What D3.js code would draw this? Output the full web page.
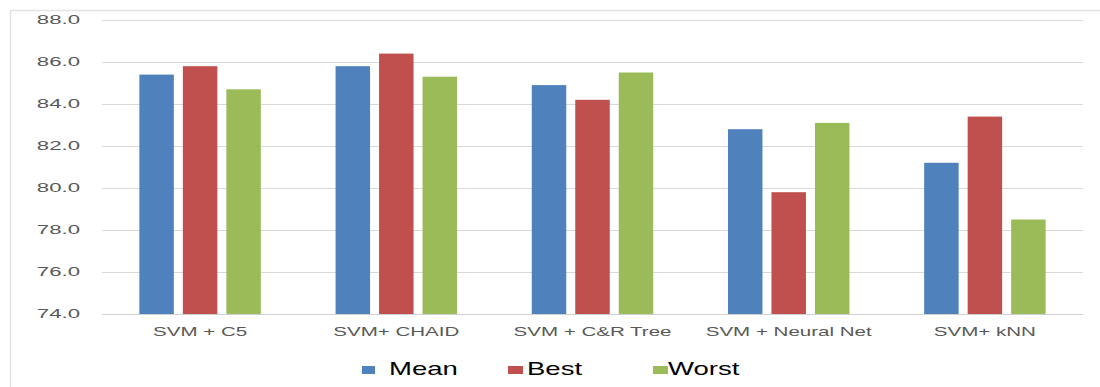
<!DOCTYPE html>
<html>
<head>
<meta charset="utf-8">
<script src="https://cdn.jsdelivr.net/npm/d3@7"></script>
<style>
  html, body { margin: 0; padding: 0; background: #fff; }
  svg { display: block; }
</style>
</head>
<body>
<svg id="chart" width="1100" height="387"></svg>
<script>
// ---- data ----
const categories = ["SVM + C5", "SVM+ CHAID", "SVM + C&R Tree", "SVM + Neural Net", "SVM+ kNN"];
const seriesNames = ["Mean", "Best", "Worst"];
const meanValues  = [85.4, 85.8, 84.9, 82.8, 81.2];
const bestValues  = [85.8, 86.4, 84.2, 79.8, 83.4];
const worstValues = [84.7, 85.3, 85.5, 83.1, 78.5];
const yTicks = [74, 76, 78, 80, 82, 84, 86, 88];

// ---- layout ----
const colors = { Mean: "#4F81BD", Best: "#C0504D", Worst: "#9BBB59" };
const seriesValues = { Mean: meanValues, Best: bestValues, Worst: worstValues };
const plotLeft = 102, plotRight = 1083, plotTop = 20, plotBottom = 314;

const svg = d3.select("#chart");

// outer frame
svg.append("path")
  .attr("d", "M10.5,387 L10.5,10.5 L1100,10.5")
  .attr("fill", "none")
  .attr("stroke", "#e3e3e3")
  .attr("stroke-width", 1.5);

const x0 = d3.scaleBand().domain(categories).range([plotLeft, plotRight]).paddingInner(0).paddingOuter(0);
const x1 = d3.scaleBand().domain(seriesNames).range([0, x0.bandwidth()]).paddingInner(0.207).paddingOuter(0.859);
const y = d3.scaleLinear().domain([74, 88]).range([plotBottom, plotTop]);

// gridlines
svg.append("g").selectAll("line").data(yTicks).join("line")
  .attr("x1", plotLeft).attr("x2", plotRight)
  .attr("y1", d => Math.round(y(d)) + 0.5).attr("y2", d => Math.round(y(d)) + 0.5)
  .attr("stroke", "#d9d9d9").attr("stroke-width", 1.2);

// y tick labels (horizontally stretched like the reference)
svg.append("g").selectAll("text").data(yTicks).join("text")
  .attr("transform", d => `translate(80,${y(d) + 4}) scale(1.85,1)`)
  .attr("text-anchor", "end")
  .attr("font-family", "Liberation Sans, Arial, sans-serif")
  .attr("font-size", 12)
  .attr("fill", "#595959")
  .text(d => d3.format(".1f")(d));

// bars
const groups = svg.append("g").selectAll("g").data(categories).join("g")
  .attr("transform", d => `translate(${x0(d)},0)`);
groups.selectAll("rect")
  .data((c, i) => seriesNames.map(s => ({ s, v: seriesValues[s][i] })))
  .join("rect")
  .attr("x", d => x1(d.s))
  .attr("width", x1.bandwidth())
  .attr("y", d => y(d.v))
  .attr("height", d => y(74) - y(d.v))
  .attr("fill", d => colors[d.s]);

// baseline
svg.append("line")
  .attr("x1", plotLeft).attr("x2", plotRight)
  .attr("y1", Math.round(y(74)) + 0.5).attr("y2", Math.round(y(74)) + 0.5)
  .attr("stroke", "#d0d0d0").attr("stroke-width", 1.2);

// category labels
svg.append("g").selectAll("text").data(categories).join("text")
  .attr("transform", d => `translate(${x0(d) + x0.bandwidth() / 2},336) scale(1.58,1)`)
  .attr("text-anchor", "middle")
  .attr("font-family", "Liberation Sans, Arial, sans-serif")
  .attr("font-size", 13)
  .attr("fill", "#595959")
  .text(d => d);

// legend
const legendSquareX = [362, 508, 653];
const legendTextX = [389, 527, 668];
const legend = svg.append("g").selectAll("g").data(seriesNames).join("g");
legend.append("rect")
  .attr("x", (d, i) => legendSquareX[i])
  .attr("y", 366)
  .attr("width", (d, i) => i === 0 ? 13 : 15)
  .attr("height", 8)
  .attr("fill", d => colors[d]);
legend.append("text")
  .attr("transform", (d, i) => `translate(${legendTextX[i]},375) scale(1.53,1)`)
  .attr("font-family", "Liberation Sans, Arial, sans-serif")
  .attr("font-size", 18)
  .attr("fill", "#000")
  .text(d => d);
</script>
</body>
</html>
